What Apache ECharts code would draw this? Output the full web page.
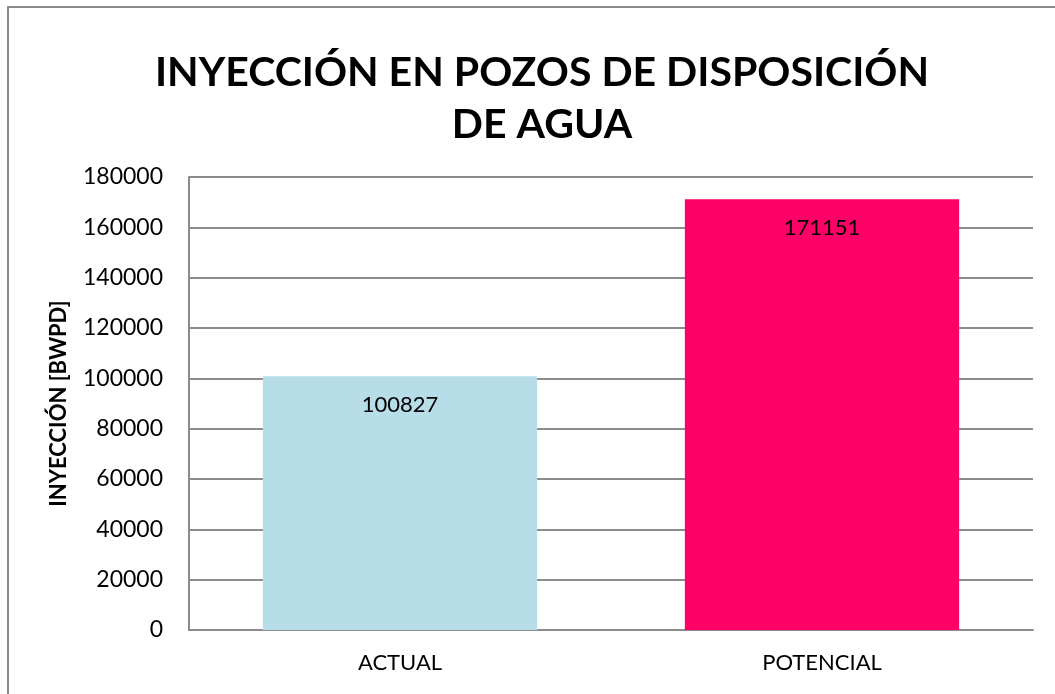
<!DOCTYPE html>
<html>
<head>
<meta charset="utf-8">
<script src="https://cdn.jsdelivr.net/npm/echarts@6/dist/echarts.min.js"></script>
<style>
  html, body { margin: 0; padding: 0; background: #fff; }
  #myChart { width: 1055px; height: 694px; }
</style>
</head>
<body>
<div id="myChart"></div>
<script>
const categories = ["ACTUAL", "POTENCIAL"];
const values = [100827, 171151];
const barColors = ["#b7dde8", "#ff0066"];
const yTicks = { min: 0, max: 180000, interval: 20000 };

const myChart = echarts.init(document.getElementById("myChart"));
const font = "Lato, 'Open Sans', sans-serif";

myChart.setOption({
  animation: false,
  title: {
    text: "INYECCIÓN EN POZOS DE DISPOSICIÓN\nDE AGUA",
    left: 537,
    textAlign: "center",
    top: 42,
    textStyle: { fontFamily: font, fontWeight: "bold", fontSize: 41, lineHeight: 52, color: "#000" }
  },
  graphic: [{
    type: "rect",
    shape: { x: 8, y: 7, width: 1100, height: 800 },
    style: { fill: "none", stroke: "#8c8c8c", lineWidth: 2 },
    z: -1
  }],
  grid: { left: 189, right: 22, top: 177, bottom: 64 },
  xAxis: {
    type: "category",
    data: categories,
    axisLine: { lineStyle: { color: "#8c8c8c", width: 2 } },
    axisTick: { show: false },
    axisLabel: { fontFamily: font, fontSize: 22, color: "#000", margin: 22 }
  },
  yAxis: {
    type: "value",
    min: yTicks.min,
    max: yTicks.max,
    interval: yTicks.interval,
    name: "INYECCIÓN [BWPD]",
    nameLocation: "middle",
    nameGap: 119,
    nameTextStyle: { fontFamily: font, fontWeight: "bold", fontSize: 22, color: "#000" },
    axisLine: { show: true, lineStyle: { color: "#8c8c8c", width: 2 } },
    axisTick: { show: false },
    splitLine: { lineStyle: { color: "#8c8c8c", width: 2 } },
    axisLabel: { fontFamily: font, fontSize: 23, color: "#000", margin: 26, formatter: v => String(v) }
  },
  series: [{
    type: "bar",
    barCategoryGap: "35%",
    data: values.map((v, i) => ({ value: v, itemStyle: { color: barColors[i] } })),
    label: {
      show: true,
      position: "insideTop",
      distance: 18,
      fontFamily: font,
      fontSize: 22,
      color: "#000"
    }
  }]
});
</script>
</body>
</html>
